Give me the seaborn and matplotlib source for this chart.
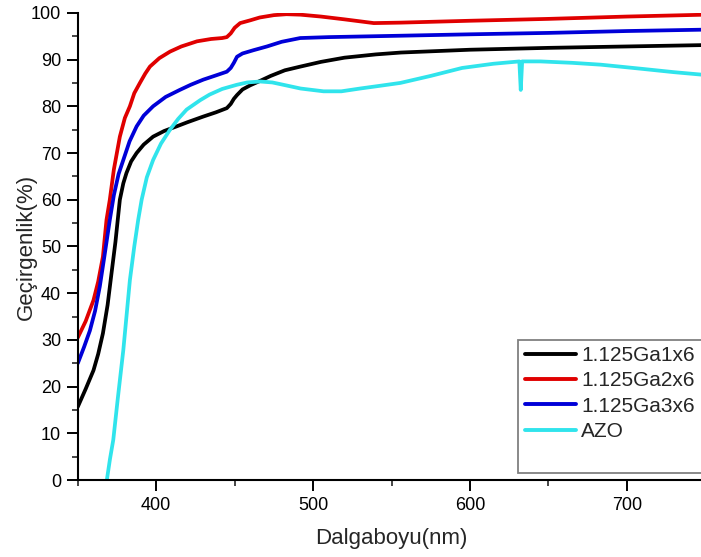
import matplotlib
matplotlib.use("Agg")
import matplotlib.pyplot as plt
import seaborn as sns
import pandas as pd
from matplotlib.ticker import MultipleLocator
from matplotlib.patches import Rectangle

# ---- data ----
x_ga1 = [350, 355, 360, 363, 366, 369, 371.5, 374, 376.8, 379, 381, 384, 387.5, 392, 398, 405, 413, 420, 430, 438, 445, 447.5, 449.5, 451.5, 455, 460, 466, 473, 482, 492, 505, 520, 540, 556, 600, 650, 700, 750]
y_ga1 = [15.7, 19.5, 23.5, 27, 31.4, 37.5, 44.3, 51, 60, 63.5, 65.7, 68.2, 70, 71.8, 73.5, 74.7, 75.7, 76.6, 77.8, 78.7, 79.6, 80.5, 81.6, 82.4, 83.6, 84.5, 85.4, 86.5, 87.7, 88.5, 89.5, 90.4, 91.1, 91.5, 92.1, 92.5, 92.8, 93.1]

x_ga2 = [350, 355, 360, 363, 366, 368.3, 370.4, 373, 376.8, 380, 383.2, 386, 389.6, 393, 396, 402, 408.8, 416, 426, 435, 442, 445, 447.5, 450, 453.5, 460, 466, 475, 483, 492, 505, 520, 538.7, 556, 600, 650, 700, 750]
y_ga2 = [30.5, 34, 38.5, 42.5, 47.8, 55.7, 60, 66.5, 73.5, 77.5, 80, 82.8, 85, 87, 88.5, 90.3, 91.7, 92.8, 93.9, 94.4, 94.6, 94.8, 95.6, 96.8, 97.8, 98.4, 99, 99.5, 99.7, 99.6, 99.2, 98.6, 97.8, 97.9, 98.3, 98.7, 99.2, 99.6]

x_ga3 = [350, 354, 357.7, 361, 364, 367, 370.4, 373, 376, 379, 383, 387.5, 392, 398, 406, 415, 422, 430, 438, 445, 447.5, 449.5, 451.5, 455, 462, 470.6, 480, 491.8, 510, 556, 600, 650, 700, 750]
y_ga3 = [25, 28.5, 32, 36.2, 41.4, 48, 55.7, 61, 65.5, 68.5, 72.5, 75.7, 78, 80, 82, 83.5, 84.6, 85.7, 86.6, 87.4, 88.2, 89.3, 90.6, 91.3, 92, 92.8, 93.8, 94.6, 94.8, 95.1, 95.4, 95.7, 96.1, 96.4]

x_azo = [368.5, 370.5, 372.6, 375.5, 379, 383.2, 386, 388.5, 390.7, 394, 398, 403, 408.8, 414, 419.4, 428, 434, 442, 451.4, 458, 466.3, 474, 481, 492, 506.7, 518, 530, 543, 555.7, 575, 595, 615, 631.5, 632.4, 633.3, 645, 665, 683.5, 710, 730, 750]
y_azo = [0, 4.5, 8.6, 17.5, 27.8, 42.8, 50, 55.7, 60, 64.8, 68.5, 72, 75, 77.3, 79.3, 81.3, 82.5, 83.7, 84.6, 85.1, 85.3, 85.1, 84.6, 83.8, 83.2, 83.2, 83.8, 84.4, 85, 86.5, 88.2, 89.1, 89.6, 83.5, 89.6, 89.6, 89.3, 88.9, 88, 87.3, 86.7]

series_names = ["1.125Ga1x6", "1.125Ga2x6", "1.125Ga3x6", "AZO"]
series_colors = ["#000000", "#e00000", "#0000d8", "#30e4ec"]
x_label = "Dalgaboyu(nm)"
y_label = "Geçirgenlik(%)"

frames = []
for name, xs, ys in zip(series_names, [x_ga1, x_ga2, x_ga3, x_azo], [y_ga1, y_ga2, y_ga3, y_azo]):
    frames.append(pd.DataFrame({"x": xs, "y": ys, "s": name}))
df = pd.concat(frames, ignore_index=True)

sns.set_theme(style="ticks")
plt.rcParams['font.family'] = ['Liberation Sans', 'DejaVu Sans']

fig = plt.figure(figsize=(7.01, 5.57), dpi=100)
ax = fig.add_axes([0.111, 0.138, 0.895, 0.839])

sns.lineplot(data=df, x="x", y="y", hue="s", hue_order=series_names,
             palette=dict(zip(series_names, series_colors)), estimator=None,
             linewidth=2.7, ax=ax)
for ln in ax.get_lines():
    ln.set_solid_joinstyle("round")
    ln.set_solid_capstyle("round")

ax.set_xlim(350, 750)
ax.set_ylim(0, 100)
ax.xaxis.set_major_locator(MultipleLocator(100))
ax.xaxis.set_minor_locator(MultipleLocator(50))
ax.yaxis.set_major_locator(MultipleLocator(10))
ax.yaxis.set_minor_locator(MultipleLocator(5))
ax.tick_params(which="major", direction="out", length=8, width=1.4, labelsize=13,
               colors="black", pad=4)
ax.tick_params(which="minor", direction="out", length=4.5, width=1.2)
for sp in ["top", "right"]:
    ax.spines[sp].set_visible(False)
for sp in ["left", "bottom"]:
    ax.spines[sp].set_linewidth(1.5)
    ax.spines[sp].set_color("black")

ax.set_xlabel(x_label, fontsize=16, labelpad=10)
ax.set_ylabel(y_label, fontsize=16, labelpad=-4)

# legend frame (extends past the figure's right edge like the reference)
ax.add_patch(Rectangle((0.701, 0.015), 0.4, 0.285, transform=ax.transAxes,
                       facecolor="white", edgecolor="#808080", linewidth=1.3,
                       clip_on=False, zorder=5))
leg = ax.legend(loc="upper left", bbox_to_anchor=(0.703, 0.30), fontsize=15,
                frameon=False, handlelength=2.45, handletextpad=0.25,
                labelspacing=0.3, borderpad=0.3, borderaxespad=0, title=None)
leg.set_zorder(6)
for line in leg.get_lines():
    line.set_linewidth(2.8)

fig.savefig("out.png", dpi=100)
